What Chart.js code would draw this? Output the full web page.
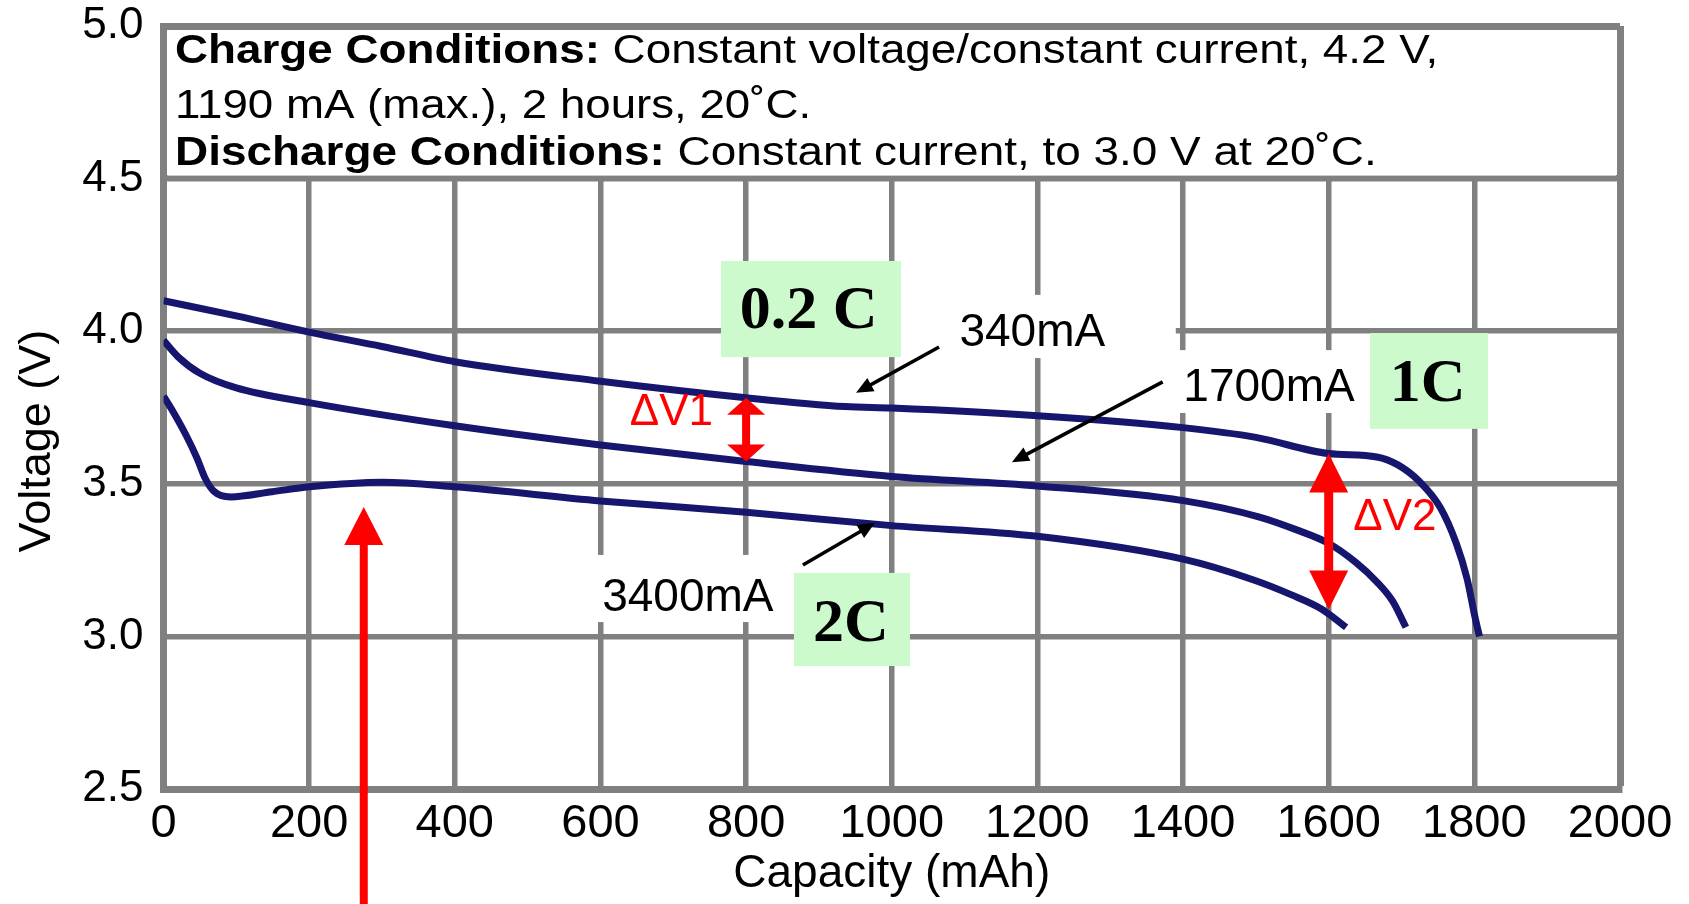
<!DOCTYPE html>
<html>
<head>
<meta charset="utf-8">
<script src="https://cdn.jsdelivr.net/npm/chart.js@4.4.1/dist/chart.umd.min.js"></script>
<style>
  html, body { margin: 0; padding: 0; background: #ffffff; }
  canvas { display: block; }
</style>
</head>
<body>
<canvas id="dischargeChart" width="1689" height="904"></canvas>
<script>
// ticks
const capacityTicks = [0, 200, 400, 600, 800, 1000, 1200, 1400, 1600, 1800, 2000];
const voltageTicks = [2.5, 3.0, 3.5, 4.0, 4.5, 5.0];

// 0.2 C, 340mA
const cap02C = [0, 100, 200, 300, 400, 600, 800, 936, 1000, 1200, 1400, 1500, 1600, 1666, 1695, 1724, 1753, 1775, 1790, 1801, 1807];
const volt02C = [4.10, 4.05, 3.997, 3.95, 3.90, 3.836, 3.782, 3.753, 3.748, 3.723, 3.684, 3.652, 3.599, 3.588, 3.562, 3.509, 3.423, 3.306, 3.189, 3.062, 3.0];

// 1C, 1700mA
const cap1C = [0, 20, 50, 100, 200, 400, 600, 800, 1000, 1200, 1400, 1505, 1556, 1599, 1637, 1666, 1688, 1706];
const volt1C = [3.97, 3.916, 3.862, 3.814, 3.766, 3.69, 3.627, 3.573, 3.524, 3.493, 3.445, 3.391, 3.349, 3.306, 3.243, 3.179, 3.115, 3.03];

// 2C, 3400mA
const cap2C = [0, 11, 31, 46, 57, 69, 92, 149, 200, 300, 400, 600, 800, 1000, 1200, 1400, 1498, 1549, 1590, 1624];
const volt2C = [3.787, 3.745, 3.659, 3.584, 3.519, 3.476, 3.457, 3.474, 3.49, 3.505, 3.49, 3.444, 3.407, 3.363, 3.328, 3.253, 3.184, 3.136, 3.09, 3.03];

const seriesNames = ["340mA", "1700mA", "3400mA"];
const rateNames = ["0.2 C", "1C", "2C"];

const chargeLine1 = [["Charge Conditions:", true], [" Constant voltage/constant current, 4.2 V,", false]];
const chargeLine2 = [["1190 mA (max.), 2 hours, 20˚C.", false]];
const dischargeLine = [["Discharge Conditions:", true], [" Constant current, to 3.0 V at 20˚C.", false]];

const FONT = '"Liberation Sans", Arial, sans-serif';
const SERIF = '"Liberation Serif", "Times New Roman", serif';
const GRID = "#808080";
const CURVE = "#16166e";
const RED = "#ff0000";
const GREEN_BOX = "rgb(204, 250, 204)";

function toPoints(xs, ys) {
    return xs.map((x, i) => ({ x: x, y: ys[i] }));
}

function px(chart, mAh, v) {
    return [chart.scales.x.getPixelForValue(mAh), chart.scales.y.getPixelForValue(v)];
}

function fillBox(ctx, chart, x0, v0, x1, v1, color) {
    const [ax, ay] = px(chart, x0, v0);
    const [bx, by] = px(chart, x1, v1);
    ctx.fillStyle = color;
    ctx.fillRect(ax, ay, bx - ax, by - ay);
}

function head(ctx, x1, y1, x2, y2, len, half) {
    const a = Math.atan2(y2 - y1, x2 - x1);
    const bx = x2 - len * Math.cos(a), by = y2 - len * Math.sin(a);
    ctx.beginPath();
    ctx.moveTo(x2, y2);
    ctx.lineTo(bx + half * Math.sin(a), by - half * Math.cos(a));
    ctx.lineTo(bx - half * Math.sin(a), by + half * Math.cos(a));
    ctx.closePath();
    ctx.fill();
}

function arrow(ctx, x1, y1, x2, y2, width, len, half, color) {
    const a = Math.atan2(y2 - y1, x2 - x1);
    ctx.strokeStyle = color;
    ctx.fillStyle = color;
    ctx.lineWidth = width;
    ctx.beginPath();
    ctx.moveTo(x1, y1);
    ctx.lineTo(x2 - (len - 1) * Math.cos(a), y2 - (len - 1) * Math.sin(a));
    ctx.stroke();
    head(ctx, x1, y1, x2, y2, len, half);
}

function doubleArrow(ctx, x, y1, y2, width, len, half, color) {
    ctx.strokeStyle = color;
    ctx.fillStyle = color;
    ctx.lineWidth = width;
    ctx.beginPath();
    ctx.moveTo(x, y1 + len - 1);
    ctx.lineTo(x, y2 - len + 1);
    ctx.stroke();
    head(ctx, x, y2, x, y1, len, half);
    head(ctx, x, y1, x, y2, len, half);
}

function stretchedLine(ctx, parts, x, y, width) {
    let total = 0;
    const widths = parts.map(p => {
        ctx.font = (p[1] ? "bold " : "") + "40px " + FONT;
        const w = ctx.measureText(p[0]).width;
        total += w;
        return w;
    });
    ctx.save();
    ctx.translate(x, y);
    ctx.scale(width / total, 1);
    let cx = 0;
    parts.forEach((p, i) => {
        ctx.font = (p[1] ? "bold " : "") + "40px " + FONT;
        ctx.fillText(p[0], cx, 0);
        cx += widths[i];
    });
    ctx.restore();
}

const annotations = {
    id: "annotations",
    beforeDatasetsDraw(chart) {
        const ctx = chart.ctx;
        ctx.save();
        // conditions box between 4.5 and 5.0
        const [l, t] = px(chart, 0, 5.0);
        const [r, b] = px(chart, 2000, 4.5);
        ctx.fillStyle = "#ffffff";
        ctx.fillRect(l + 4, t + 4, r - l - 8, b - t - 7);

        // white label patches
        fillBox(ctx, chart, 1011, 4.119, 1390, 3.912, "#ffffff");
        fillBox(ctx, chart, 1368, 3.938, 1657, 3.732, "#ffffff");
        fillBox(ctx, chart, 558, 3.267, 864, 3.047, "#ffffff");

        // rate boxes
        fillBox(ctx, chart, 765.5, 4.230, 1012.7, 3.915, GREEN_BOX);
        fillBox(ctx, chart, 1656.7, 3.994, 1818.7, 3.680, GREEN_BOX);
        fillBox(ctx, chart, 865.7, 3.208, 1025, 2.903, GREEN_BOX);
        ctx.restore();
    },
    afterDatasetsDraw(chart) {
        const ctx = chart.ctx;
        ctx.save();
        ctx.fillStyle = "#000000";
        ctx.textBaseline = "alphabetic";
        ctx.textAlign = "left";

        const x0 = chart.scales.x.getPixelForValue(15.8);
        const y1 = chart.scales.y.getPixelForValue(4.879);
        const y2 = chart.scales.y.getPixelForValue(4.699);
        const y3 = chart.scales.y.getPixelForValue(4.545);
        stretchedLine(ctx, chargeLine1, x0, y1, chart.scales.x.getPixelForValue(1750.5) - x0);
        stretchedLine(ctx, chargeLine2, x0, y2, chart.scales.x.getPixelForValue(889.3) - x0);
        stretchedLine(ctx, dischargeLine, x0, y3, chart.scales.x.getPixelForValue(1666) - x0);

        // current labels
        ctx.textAlign = "center";
        ctx.textBaseline = "middle";
        ctx.font = "46px " + FONT;
        let p = px(chart, 1193, 3.994); ctx.fillText(seriesNames[0], p[0], p[1]);
        p = px(chart, 1518, 3.814); ctx.fillText(seriesNames[1], p[0], p[1]);
        p = px(chart, 720, 3.126); ctx.fillText(seriesNames[2], p[0], p[1]);

        // rate labels
        ctx.font = "bold 62px " + SERIF;
        p = px(chart, 886, 4.069); ctx.fillText(rateNames[0], p[0], p[1] + 2);
        p = px(chart, 1736, 3.830); ctx.fillText(rateNames[1], p[0], p[1] + 2);
        p = px(chart, 944, 3.044); ctx.fillText(rateNames[2], p[0], p[1] + 2);

        // black pointer arrows
        let a = px(chart, 1065, 3.948), z = px(chart, 951, 3.798);
        arrow(ctx, a[0], a[1], z[0], z[1], 3.5, 17, 7.5, "#000000");
        a = px(chart, 1372, 3.834); z = px(chart, 1165, 3.571);
        arrow(ctx, a[0], a[1], z[0], z[1], 3.5, 17, 7.5, "#000000");
        a = px(chart, 878, 3.234); z = px(chart, 977, 3.372);
        arrow(ctx, a[0], a[1], z[0], z[1], 3.5, 17, 7.5, "#000000");

        // red delta arrows
        a = px(chart, 800, 3.782); z = px(chart, 800, 3.573);
        doubleArrow(ctx, a[0], a[1], z[1], 8, 17, 19, RED);
        a = px(chart, 1600, 3.599); z = px(chart, 1600, 3.088);
        doubleArrow(ctx, a[0], a[1], z[1], 9, 39, 19.5, RED);

        ctx.fillStyle = RED;
        ctx.font = "44px " + FONT;
        p = px(chart, 697.5, 3.732); ctx.fillText("ΔV1", p[0], p[1]);
        p = px(chart, 1691, 3.388); ctx.fillText("ΔV2", p[0], p[1]);

        // big red arrow up to the 2C dip
        a = px(chart, 275, 2.0); z = px(chart, 275, 3.424);
        arrow(ctx, a[0], chart.height + 5, z[0], z[1], 8, 38, 19.5, RED);

        // y axis title
        ctx.fillStyle = "#000000";
        ctx.font = "45px " + FONT;
        ctx.translate(37.5, chart.scales.y.getPixelForValue(3.64));
        ctx.rotate(-Math.PI / 2);
        ctx.fillText("Voltage (V)", 0, 0);
        ctx.restore();
    }
};

const edgeWidth = (edge, mid) => ctx => {
    if (!ctx.tick) return 5.5;
    if (ctx.tick.value === edge) return 7;
    if (ctx.tick.value === mid) return 6.5;
    return 5.5;
};

new Chart(document.getElementById("dischargeChart"), {
    type: "line",
    data: {
        datasets: [
            { label: rateNames[0], data: toPoints(cap02C, volt02C) },
            { label: rateNames[1], data: toPoints(cap1C, volt1C) },
            { label: rateNames[2], data: toPoints(cap2C, volt2C) }
        ].map(ds => Object.assign(ds, {
            borderColor: CURVE,
            borderWidth: 7,
            pointRadius: 0,
            fill: false,
            cubicInterpolationMode: "monotone"
        }))
    },
    options: {
        responsive: false,
        maintainAspectRatio: false,
        animation: false,
        events: [],
        layout: { padding: { top: 26, right: 69, bottom: 0, left: 0 } },
        plugins: {
            legend: { display: false },
            tooltip: { enabled: false }
        },
        scales: {
            x: {
                type: "linear",
                min: 0,
                max: 2000,
                afterBuildTicks: scale => { scale.ticks = capacityTicks.map(v => ({ value: v })); },
                afterFit: scale => {
                    scale.height = 115;
                    scale.paddingLeft = 0;
                    scale.paddingRight = 0;
                },
                grid: { color: GRID, lineWidth: edgeWidth(2000, -1), drawTicks: false },
                border: { display: true, color: GRID, width: 7 },
                ticks: {
                    color: "#000000",
                    font: { family: FONT, size: 47 },
                    padding: 7,
                    maxRotation: 0,
                    autoSkip: false,
                    callback: v => String(v)
                },
                title: {
                    display: true,
                    text: "Capacity (mAh)",
                    color: "#000000",
                    font: { family: FONT, size: 46 },
                    padding: { top: 0, bottom: 2 }
                }
            },
            y: {
                type: "linear",
                min: 2.5,
                max: 5.0,
                afterBuildTicks: scale => { scale.ticks = voltageTicks.map(v => ({ value: v })); },
                afterFit: scale => {
                    scale.width = 163.5;
                    scale.paddingTop = 0;
                    scale.paddingBottom = 0;
                },
                grid: { color: GRID, lineWidth: edgeWidth(5.0, 4.5), drawTicks: false },
                border: { display: true, color: GRID, width: 7 },
                ticks: {
                    color: "#000000",
                    font: { family: FONT, size: 44 },
                    padding: 20,
                    autoSkip: false,
                    callback: v => Number(v).toFixed(1)
                }
            }
        }
    },
    plugins: [annotations]
});
</script>
</body>
</html>
